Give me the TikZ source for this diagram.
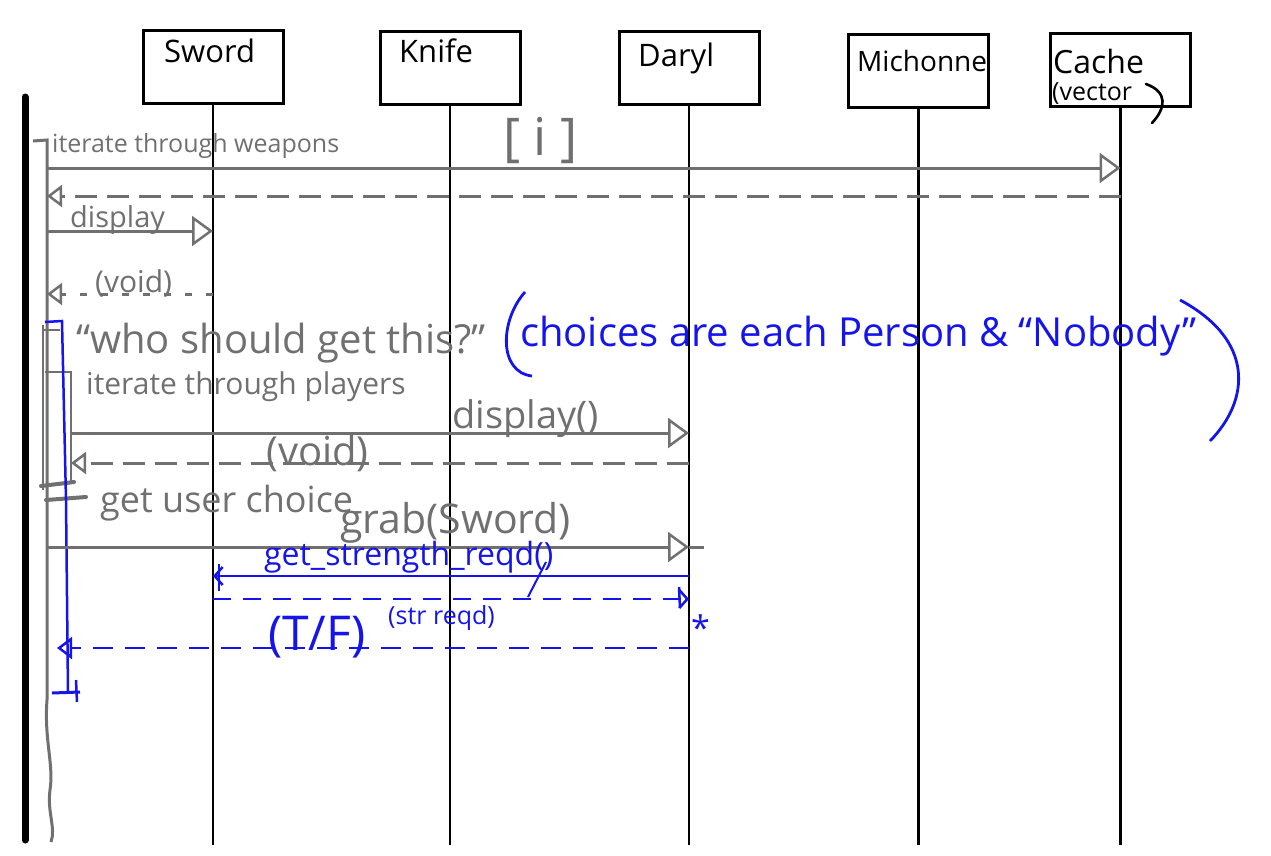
\documentclass[tikz,border=0pt]{standalone}
\usepackage{fontspec}
\setmainfont{Open Sans}
\usetikzlibrary{arrows.meta}
\definecolor{pen}{RGB}{112,112,112}
\definecolor{ink}{RGB}{20,20,235}
\begin{document}
\begin{tikzpicture}[x=1pt,y=-1pt,
  actor/.style={draw=black, line width=3pt, minimum width=140pt, minimum height=73pt, inner sep=0pt},
  atext/.style={font=\fontsize{#1}{#1}\selectfont, anchor=base west, inner sep=0pt},
  life/.style={line width=2.6pt, black},
  hw/.style={font=\fontsize{#1}{#1}\selectfont, text=pen, anchor=base west, inner sep=0pt},
  hwb/.style={font=\fontsize{#1}{#1}\selectfont, text=ink, anchor=base west, inner sep=0pt},
  msg/.style={pen, line width=3pt},
  ret/.style={pen, line width=3pt, dash pattern=on 22pt off 10pt},
  bmsg/.style={ink, line width=2.8pt},
  bret/.style={ink, line width=2.8pt, dash pattern=on 20pt off 12pt},
  bigtri/.style={-{Triangle[open, length=21pt, width=30pt, line width=2.5pt]}},
  smalltri/.style={-{Triangle[open, length=15pt, width=22pt, line width=2.5pt]}},
  barb/.style={-{Straight Barb[length=8pt, width=18pt, line width=2.5pt]}}
]
\useasboundingbox (0,0) rectangle (1271,855);
% actors
\node[actor] (sword) at (213,66.5) {};
\node[actor] (knife) at (450,67.5) {};
\node[actor] (daryl) at (689,68) {};
\node[actor] (michonne) at (918.5,70.5) {};
\node[actor] (cache) at (1120.5,70) {};
\node[atext=31] (swordT) at (164,62) {Sword};
\node[atext=31] (knifeT) at (399,62) {Knife};
\node[atext=31] (darylT) at (638,66) {Daryl};
\node[atext=28] (michonneT) at (857,71) {Michonne};
\node[atext=32] (cacheT) at (1053,73) {Cache};
\node[atext=25] (vectorT) at (1052,100) {(vector};
\draw[line width=2.6pt, line cap=round] (1146,84) .. controls (1168,92) and (1166,108) .. (1152,123);
% lifelines
\foreach \n in {sword,knife,daryl,michonne,cache}{
  \coordinate (\n-end) at (\n.south |- 0,845);
  \draw[life] (\n.south) -- (\n-end);
}
% black frame bar
\coordinate (barT) at (25,97);
\coordinate (barB) at (25,840);
\draw[line width=7pt, line cap=round] (barT) -- (barB);
% caller activation (gray)
\coordinate (actT) at (47,140);
\draw[pen, line width=3pt] (33,141) -- (actT) -- (47,700) .. controls (44,740) and (54,765) .. (50,790) .. controls (47,812) and (56,828) .. (51,842);
\draw[pen, line width=2.5pt] (43,325) -- (43,490);
\draw[pen, line width=2.5pt] (43,330) -- (60,330);
\draw[pen, line width=2.5pt] (45,372) -- (71,372) -- (71,482);
\draw[pen, line width=4pt, line cap=round] (41,486) -- (74,482);
\draw[pen, line width=4pt, line cap=round] (46,500) -- (86,497);
% blue activation
\draw[ink, line width=2.5pt] (45,322) -- (62,321) -- (66,500) -- (68,693);
\draw[ink, line width=3pt] (52,693) -- (80,692);
\draw[ink, line width=2.5pt] (76,680) -- (77,702);
% message 1: iterate through weapons -> cache
\node[hw=25] (l1) at (52,152) {iterate through weapons};
\node[hw=52] (li) at (503,155) {[ i ]};
\coordinate (m1a) at (47,168);
\coordinate (m1b) at (cache.south |- 0,168);
\draw[msg, bigtri] (m1a) -- (m1b);
% message 2: return from cache
\coordinate (m2a) at (cache.south |- 0,196);
\coordinate (m2b) at (47,196);
\draw[ret, smalltri] (m2a) -- (m2b);
% message 3: display -> sword
\node[hw=29] (l3) at (70,227) {display};
\coordinate (m3a) at (47,231);
\coordinate (m3b) at (sword.south |- 0,231);
\draw[msg, bigtri] (m3a) -- (m3b);
% message 4: (void)
\node[hw=30] (l4) at (95,292) {(void)};
\coordinate (m4a) at (sword.south |- 0,294);
\coordinate (m4b) at (47,294);
\draw[pen, line width=3pt, dash pattern=on 7pt off 14pt, smalltri] (m4a) -- (m4b);
% who should get this
\node[hw=40] (l5) at (76,353) {“who should get this?”};
\node[hwb=40] (l6) at (520,346) {choices are each Person \& “Nobody”};
\draw[ink, line width=2.8pt] (525,292) .. controls (500,320) and (498,372) .. (532,376);
\draw[ink, line width=2.8pt] (1180,300) .. controls (1255,340) and (1250,400) .. (1210,441);
% iterate through players
\node[hw=30] (l7) at (86,394) {iterate through players};
\node[hw=38] (l8) at (452,428) {display()};
\coordinate (m8a) at (71,433);
\coordinate (m8b) at (daryl.south |- 0,433);
\draw[msg, bigtri] (m8a) -- (m8b);
\node[hw=40] (l9) at (266,465) {(void)};
\coordinate (m9a) at (daryl.south |- 0,463);
\coordinate (m9b) at (71,463);
\draw[ret, smalltri] (m9a) -- (m9b);
% get user choice
\node[hw=36] (l10) at (100,512) {get user choice};
\node[hw=41] (l11) at (340,533) {grab(Sword)};
\coordinate (m11a) at (47,547);
\coordinate (m11b) at (daryl.south |- 0,547);
\coordinate (m11c) at (704,547);
\draw[msg, bigtri] (m11a) -- (m11b);
\draw[msg] (m11b) -- (m11c);
% blue: get_strength_reqd
\node[hwb=32] (l12) at (264,565) {get\_strength\_reqd()};
\coordinate (m12a) at (daryl.south |- 0,576);
\coordinate (m12b) at (sword.south |- 0,576);
\draw[bmsg, barb] (m12a) -- (m12b);
\draw[ink, line width=2.5pt] (219,564) -- (219,591);
\coordinate (m13a) at (sword.south |- 0,599);
\coordinate (m13b) at (daryl.south |- 0,599);
\draw[bret, dash pattern=on 18pt off 12pt, barb] (m13a) -- (m13b);
\draw[ink, line width=2.5pt] (679,587) -- (680,608);
\draw[ink, line width=2pt] (546,562) -- (528,597);
\node[hwb=25] (l13) at (388,624) {(str reqd)};
\node[hwb=34] (star) at (691,640) {*};
\node[hwb=48] (l14) at (268,650) {(T/F)};
\coordinate (m14a) at (daryl.south |- 0,648);
\coordinate (m14b) at (57,648);
\draw[bret, smalltri] (m14a) -- (m14b);
\end{tikzpicture}
\end{document}
